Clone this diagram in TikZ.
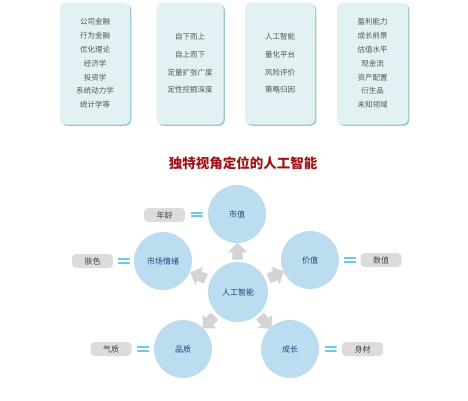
\documentclass[tikz,border=0pt]{standalone}
\usepackage{fontspec}
\setmainfont{Noto Sans CJK SC}
\usetikzlibrary{shapes.arrows,shadows,calc}
\definecolor{boxfill}{RGB}{226,241,243}
\definecolor{boxshadow}{RGB}{150,200,206}
\definecolor{boxtext}{RGB}{85,85,85}
\definecolor{circfill}{RGB}{188,221,240}
\definecolor{circtext}{RGB}{30,70,120}
\definecolor{arrowgray}{RGB}{212,212,212}
\definecolor{labelfill}{RGB}{220,220,220}
\definecolor{labeltext}{RGB}{70,70,70}
\definecolor{eqblue}{RGB}{110,200,232}
\definecolor{titlered}{RGB}{160,18,24}
\begin{document}
\begin{tikzpicture}[x=1pt,y=-1pt,
  topbox/.style={fill=boxfill, rounded corners=6pt, minimum width=70pt, minimum height=122pt,
    inner sep=0pt, align=center, text=boxtext, font=\fontsize{7.5}{13.8}\selectfont,
    drop shadow={shadow xshift=1.3pt, shadow yshift=-1.3pt, fill=boxshadow, opacity=1}},
  circ/.style={circle, fill=circfill, minimum size=58pt, inner sep=0pt, text=circtext,
    font=\fontsize{8}{9}\selectfont},
  lbl/.style={fill=labelfill, rounded corners=4pt, minimum width=41pt, minimum height=14pt,
    inner sep=0pt, text=labeltext, font=\fontsize{8}{9}\selectfont},
  eqsign/.style={minimum width=12pt, minimum height=7pt, inner sep=0pt,
    path picture={\draw[eqblue, line width=2pt]
      ([yshift=1.8pt]path picture bounding box.west) -- ([yshift=1.8pt]path picture bounding box.east)
      ([yshift=-1.8pt]path picture bounding box.west) -- ([yshift=-1.8pt]path picture bounding box.east);}},
  blockarrow/.style={single arrow, fill=arrowgray, minimum height=17pt, inner xsep=0pt,
    inner ysep=5pt, single arrow head extend=4.5pt, single arrow head indent=0pt}
]
\useasboundingbox (0,0) rectangle (468,400);

% top boxes
\node[topbox] (b1) at (95,63.5) {公司金融\\行为金融\\优化理论\\经济学\\投资学\\系统动力学\\统计学等};
\node[topbox, minimum width=67pt, font=\fontsize{7.5}{17.7}\selectfont] (b2) at (190,63.5) {自下而上\\自上而下\\定量扩张广度\\定性挖掘深度};
\node[topbox, font=\fontsize{7.5}{17.7}\selectfont] (b3) at (280,63.5) {人工智能\\量化平台\\风险评价\\策略归因};
\node[topbox, minimum width=71pt] (b4) at (372.5,63.5) {盈利能力\\成长前景\\估值水平\\现金流\\资产配置\\衍生品\\未知领域};

% title
\node[text=titlered, font=\fontsize{13.5}{15}\selectfont\bfseries] (title) at (243,163) {独特视角定位的人工智能};

% circles
\node[circ, minimum size=60pt] (ai) at (238,292) {人工智能};
\node[circ] (sz) at (237,214) {市值};
\node[circ] (sc) at (163,261) {市场情绪};
\node[circ] (jz) at (310,260) {价值};
\node[circ] (pz) at (183,349) {品质};
\node[circ] (cz) at (290,349) {成长};

% labels
\node[lbl] (l1) at (164.5,215) {年龄};
\node[lbl] (l2) at (92.5,261) {肤色};
\node[lbl] (l3) at (381,260) {数值};
\node[lbl] (l4) at (111,349) {气质};
\node[lbl] (l5) at (362.5,349) {身材};

% equal signs
\node[eqsign] (e1) at ($(l1.east)!0.5!(sz.west)$) {};
\node[eqsign] (e2) at ($(l2.east)!0.5!(sc.west)$) {};
\node[eqsign] (e3) at ($(jz.east)!0.5!(l3.west)$) {};
\node[eqsign] (e4) at ($(l4.east)!0.5!(pz.west)$) {};
\node[eqsign] (e5) at ($(cz.east)!0.5!(l5.west)$) {};

% arrows
\foreach \t/\f [count=\i] in {sz/0.49, sc/0.5, jz/0.5, pz/0.5, cz/0.5}{
  \path let \p1=($(\t)-(ai)$), \n1={atan2(\y1,\x1)} in
    node[blockarrow, rotate=\n1] (a\i) at ($(ai)!\f!(\t)$) {};
}
\end{tikzpicture}
\end{document}
